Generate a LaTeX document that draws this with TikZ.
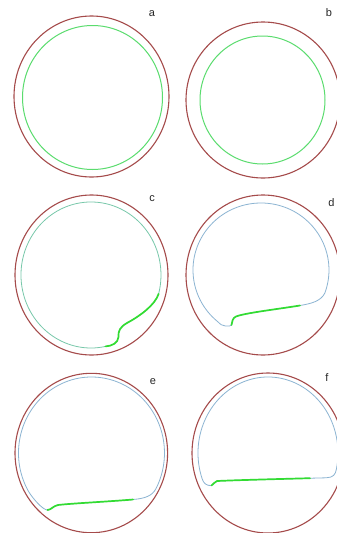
\documentclass[tikz,border=0pt]{standalone}
\usepackage{fontspec}
\setmainfont{Liberation Sans}
\definecolor{cellred}{RGB}{165,75,75}
\definecolor{ringgreen}{RGB}{90,220,110}
\definecolor{thinblue}{RGB}{140,180,210}
\definecolor{thinteal}{RGB}{120,200,170}
\definecolor{hotgreen}{RGB}{50,220,50}
\tikzset{
  outer/.style={draw=cellred, line width=1.1pt},
  ring/.style={draw=ringgreen, line width=1pt},
  thin/.style={draw=thinblue, line width=0.8pt},
  thinc/.style={draw=thinteal, line width=0.8pt},
  hot/.style={draw=hotgreen, line width=1.7pt, line cap=round},
  lab/.style={font=\fontsize{11}{12}\selectfont, text=black!85, inner sep=0pt}
}
\begin{document}
\begin{tikzpicture}[x=1pt,y=-1pt]
\clip (0,0) rectangle (337,533);
\fill[white] (0,0) rectangle (337,533);
% ---- panel a
\draw[outer] (91.5,96.5) ellipse [x radius=77.5, y radius=80.5];
\draw[ring] (92.5,97.5) ellipse [x radius=70, y radius=72];
\node[lab] (la) at (152,14) {a};
% ---- panel b
\draw[outer] (263,100) ellipse [x radius=77, y radius=78];
\draw[ring] (262.5,100) ellipse [x radius=62.5, y radius=64];
\node[lab] (lb) at (329,13) {b};
% ---- panel c
\draw[outer] (91.5,275) ellipse [x radius=76.5, y radius=80];
\draw[thinc] (105.55,346.4) arc[start angle=78, end angle=375, x radius=70, y radius=73]
  .. controls (155,305) and (140,316) .. (127,323)
  .. controls (120,327) and (118,331) .. (118.5,337)
  .. controls (118,343) and (112,346) .. (105.55,346.4);
\draw[hot] (158.61,293.89)
  .. controls (155,305) and (140,316) .. (127,323)
  .. controls (120,327) and (118,331) .. (118.5,337)
  .. controls (118,343) and (112,346) .. (105.55,346.4);
\node[lab] (lc) at (152,199) {c};
% ---- panel d
\draw[outer] (263,275) ellipse [x radius=77, y radius=80];
\draw[thin] (217.29,321.32) arc[start angle=130, end angle=380, x radius=68, y radius=67]
  .. controls (321,301) and (312,303.5) .. (300,305.5)
  .. controls (275,309.5) and (245,313) .. (236,316.5)
  .. controls (232.5,318) and (232,322) .. (231.5,325)
  .. controls (230.5,327) and (221,327) .. (217.29,321.32);
\draw[hot] (300,305.5)
  .. controls (275,309.5) and (245,313) .. (236,316.5)
  .. controls (232.5,318) and (232,322) .. (231.5,325);
\node[lab] (ld) at (331.5,203) {d};
% ---- panel e
\draw[outer] (91.3,453) ellipse [x radius=76.3, y radius=79.7];
\draw[thin] (28.28,491) arc[start angle=150, end angle=388, x radius=73, y radius=76]
  .. controls (152,496) and (145,498.5) .. (133,499.5)
  .. controls (110,501.5) and (70,503.5) .. (58,505)
  .. controls (53,506) and (51,510) .. (47.5,510)
  .. controls (43,510) and (33,499) .. (28.28,491);
\draw[hot] (133,499.5)
  .. controls (110,501.5) and (70,503.5) .. (58,505)
  .. controls (53,506) and (51,510) .. (47.5,510);
\node[lab] (le) at (153,382) {e};
% ---- panel f
\draw[outer] (268,453) ellipse [x radius=76, y radius=80];
\draw[thin] (202.22,478.99) arc[start angle=160, end angle=372, x radius=70, y radius=76]
  .. controls (335.5,475) and (333,477.5) .. (326,477.8)
  .. controls (300,478.5) and (240,480) .. (217,481)
  .. controls (214,481.5) and (213.5,485) .. (211.5,485.5)
  .. controls (207,486) and (203.5,483.5) .. (202.22,478.99);
\draw[hot] (310,478.2)
  .. controls (280,479) and (240,480) .. (217,481)
  .. controls (214,481.5) and (213.5,485) .. (211.5,485.5);
\node[lab] (lf) at (327,378) {f};
\end{tikzpicture}
\end{document}
